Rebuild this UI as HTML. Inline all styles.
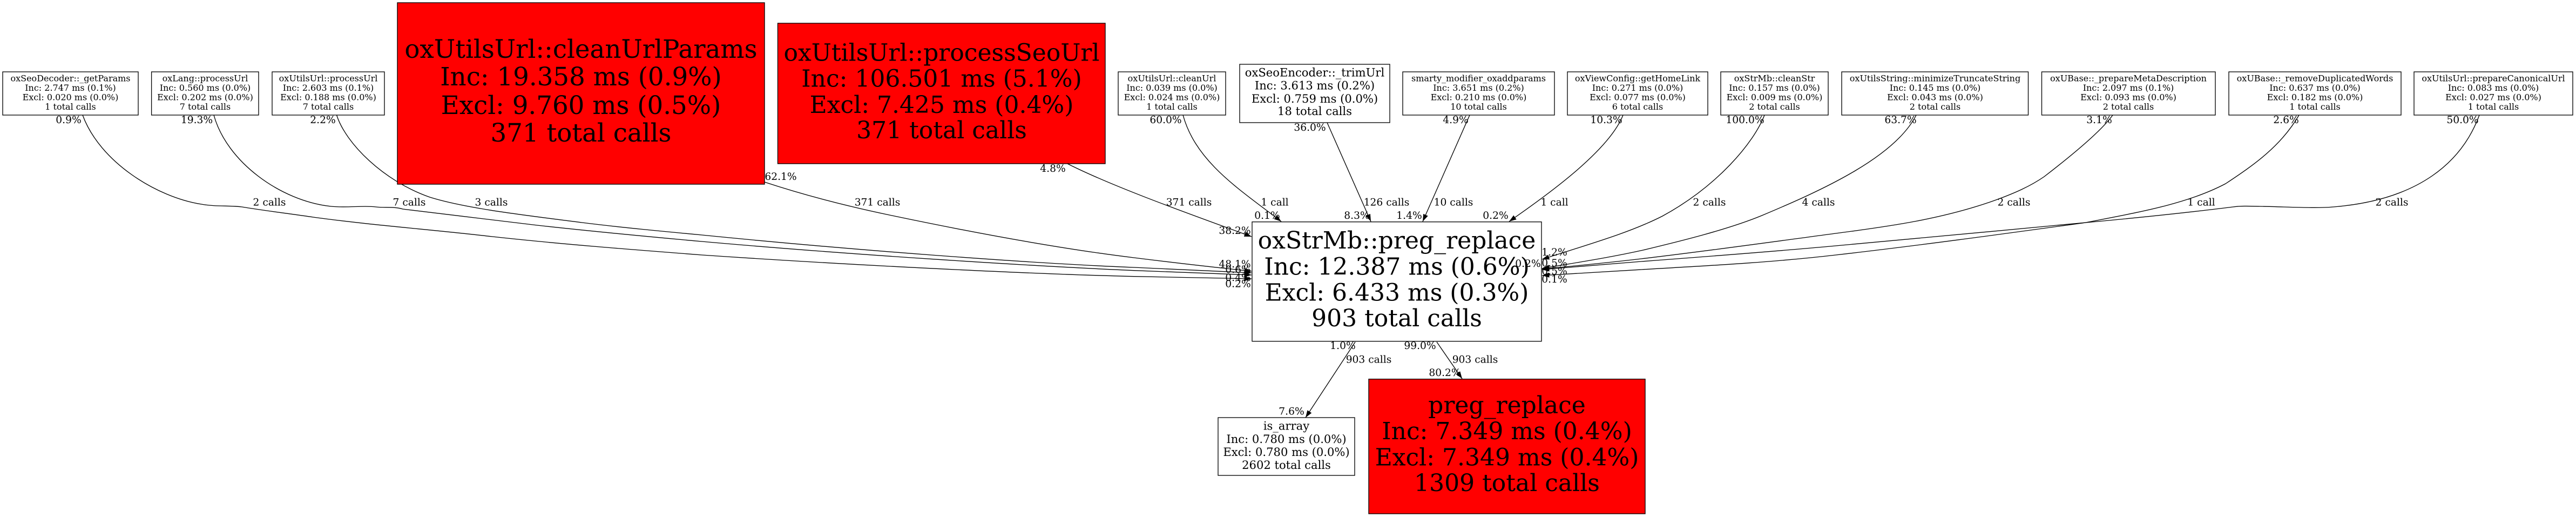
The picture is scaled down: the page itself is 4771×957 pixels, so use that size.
<!DOCTYPE html>
<html><head><meta charset="utf-8"><title>Call graph</title>
<style>
html,body{margin:0;padding:0;background:#fff;width:4771px;height:957px;overflow:hidden}
svg{display:block}
text{font-family:"DejaVu Serif",serif;fill:#000;text-anchor:middle}
.n{stroke:#000;stroke-width:1.33;fill:#fff}
.r{stroke:#000;stroke-width:1.33;fill:#f00}
.e{stroke:#000;stroke-width:1.33;fill:none;marker-end:url(#a)}
.s text{font-size:16px}
.l text{font-size:18.67px}
.m text{font-size:21.1px}
.b text{font-size:44px}
.h text{font-size:46.7px}
</style></head><body>
<svg width="4771" height="957" viewBox="0 0 4771 957" xmlns="http://www.w3.org/2000/svg">
<defs><marker id="a" markerUnits="userSpaceOnUse" markerWidth="14" markerHeight="10" viewBox="0 0 14 10" refX="13.4" refY="5" orient="auto"><path d="M0,0.3L13.4,5L0,9.7z" fill="#000"/></marker></defs>
<rect width="4771" height="957" fill="#fff"/>

<!-- edges -->
<path class="e" d="M153,213C185,300 290,365 373,378C400,383 425,380 448,383C490,390 540,396 580,402C690,417 800,425 912,438C1040,452 1170,462 1300,472C1565,490 1900,507 2100,511.7C2180,513.5 2260,515 2318,516"/>
<path class="e" d="M396,213C420,300 520,372 613,382C640,385 675,380 696,383C712,385 730,382 746,387C830,397 910,407 995,417C1095,428 1200,438 1300,447C1570,471 1900,492 2100,500.7C2180,504 2260,507 2318,509"/>
<path class="e" d="M623.5,213C640,265 710,335 796,365C860,385 960,397 1078,412C1150,421 1225,428 1300,435C1570,462 1900,487 2100,495C2180,498 2260,502 2318,505"/>
<path class="e" d="M1416,337C1495,363 1570,382 1652,399C1800,430 1960,460 2100,477C2180,487 2250,495 2318,502"/>
<path class="e" d="M1977,303C2060,345 2200,395 2318,438"/>
<path class="e" d="M2191,213C2215,300 2295,350 2373,410"/>
<path class="e" d="M2458,227L2539,410"/>
<path class="e" d="M2722,213L2635,410"/>
<path class="e" d="M3006,213C2980,280 2860,365 2795,410"/>
<path class="e" d="M3268,213C3248,265 3180,345 3079,400C3020,430 2950,450 2856,480"/>
<path class="e" d="M3549,213C3510,290 3380,350 3263,399C3200,425 3110,447 3043,463C2980,477 2920,486 2856,497"/>
<path class="e" d="M3913,213C3890,245 3825,297 3786,327C3760,345 3730,358 3697,370C3600,405 3500,419 3400,432C3280,448 3160,465 3040,479C2980,486 2920,492 2856,498"/>
<path class="e" d="M4258,213C4225,270 4175,305 4122,340C4050,378 3960,393 3863,412C3710,433 3550,455 3400,472C3280,486 3160,492 3040,499C2980,503 2920,506 2856,510"/>
<path class="e" d="M4592,213C4560,300 4480,370 4322,383C4290,386 4240,383 4186,382C4165,381.5 4150,381 4136,383C4040,395 3950,404 3863,412C3710,426 3550,442 3400,455C3280,466 3160,475 3040,484C2980,489 2920,494 2856,499"/>
<path class="e" d="M2510,633L2418,773"/>
<path class="e" d="M2661,633L2708,701"/>

<!-- nodes -->
<g class="s">
<rect class="n" x="5" y="133" width="251" height="80"/>
<text x="130.5" y="150.7">oxSeoDecoder::_getParams</text><text x="130.5" y="168">Inc: 2.747 ms (0.1%)</text><text x="130.5" y="185.5">Excl: 0.020 ms (0.0%)</text><text x="130.5" y="203">1 total calls</text>
<rect class="n" x="280.6" y="133" width="198.4" height="80"/>
<text x="380" y="150.7">oxLang::processUrl</text><text x="380" y="168">Inc: 0.560 ms (0.0%)</text><text x="380" y="185.5">Excl: 0.202 ms (0.0%)</text><text x="380" y="203">7 total calls</text>
<rect class="n" x="504" y="133" width="208" height="80"/>
<text x="608" y="150.7">oxUtilsUrl::processUrl</text><text x="608" y="168">Inc: 2.603 ms (0.1%)</text><text x="608" y="185.5">Excl: 0.188 ms (0.0%)</text><text x="608" y="203">7 total calls</text>
<rect class="n" x="2071" y="133" width="199" height="80"/>
<text x="2170.5" y="150.7">oxUtilsUrl::cleanUrl</text><text x="2170.5" y="168">Inc: 0.039 ms (0.0%)</text><text x="2170.5" y="185.5">Excl: 0.024 ms (0.0%)</text><text x="2170.5" y="203">1 total calls</text>
<rect class="n" x="2598" y="133" width="281" height="80"/>
<text x="2738.5" y="150.7">smarty_modifier_oxaddparams</text><text x="2738.5" y="168">Inc: 3.651 ms (0.2%)</text><text x="2738.5" y="185.5">Excl: 0.210 ms (0.0%)</text><text x="2738.5" y="203">10 total calls</text>
<rect class="n" x="2903" y="133" width="260" height="80"/>
<text x="3033" y="150.7">oxViewConfig::getHomeLink</text><text x="3033" y="168">Inc: 0.271 ms (0.0%)</text><text x="3033" y="185.5">Excl: 0.077 ms (0.0%)</text><text x="3033" y="203">6 total calls</text>
<rect class="n" x="3187" y="133" width="199" height="80"/>
<text x="3286.5" y="150.7">oxStrMb::cleanStr</text><text x="3286.5" y="168">Inc: 0.157 ms (0.0%)</text><text x="3286.5" y="185.5">Excl: 0.009 ms (0.0%)</text><text x="3286.5" y="203">2 total calls</text>
<rect class="n" x="3411" y="133" width="345.5" height="80"/>
<text x="3584" y="150.7">oxUtilsString::minimizeTruncateString</text><text x="3584" y="168">Inc: 0.145 ms (0.0%)</text><text x="3584" y="185.5">Excl: 0.043 ms (0.0%)</text><text x="3584" y="203">2 total calls</text>
<rect class="n" x="3781.5" y="133" width="321.5" height="80"/>
<text x="3942" y="150.7">oxUBase::_prepareMetaDescription</text><text x="3942" y="168">Inc: 2.097 ms (0.1%)</text><text x="3942" y="185.5">Excl: 0.093 ms (0.0%)</text><text x="3942" y="203">2 total calls</text>
<rect class="n" x="4128" y="133" width="319" height="80"/>
<text x="4287.5" y="150.7">oxUBase::_removeDuplicatedWords</text><text x="4287.5" y="168">Inc: 0.637 ms (0.0%)</text><text x="4287.5" y="185.5">Excl: 0.182 ms (0.0%)</text><text x="4287.5" y="203">1 total calls</text>
<rect class="n" x="4471" y="133" width="294" height="80"/>
<text x="4618" y="150.7">oxUtilsUrl::prepareCanonicalUrl</text><text x="4618" y="168">Inc: 0.083 ms (0.0%)</text><text x="4618" y="185.5">Excl: 0.027 ms (0.0%)</text><text x="4618" y="203">1 total calls</text>
</g>
<g class="m">
<rect class="n" x="2296" y="119" width="278" height="108"/>
<text x="2435" y="141.7">oxSeoEncoder::_trimUrl</text><text x="2435" y="165.6">Inc: 3.613 ms (0.2%)</text><text x="2435" y="190">Excl: 0.759 ms (0.0%)</text><text x="2435" y="213">18 total calls</text>
<rect class="n" x="2256" y="773" width="253" height="107"/>
<text x="2382.5" y="795.7">is_array</text><text x="2382.5" y="820">Inc: 0.780 ms (0.0%)</text><text x="2382.5" y="844">Excl: 0.780 ms (0.0%)</text><text x="2382.5" y="868">2602 total calls</text>
</g>
<g class="h">
<rect class="r" x="736" y="5" width="680" height="336"/>
<text x="1076" y="107">oxUtilsUrl::cleanUrlParams</text><text x="1076" y="158">Inc: 19.358 ms (0.9%)</text><text x="1076" y="211">Excl: 9.760 ms (0.5%)</text><text x="1076" y="262">371 total calls</text>
</g>
<g class="b">
<rect class="r" x="1440.5" y="43" width="606.5" height="260"/>
<text x="1744" y="112.3">oxUtilsUrl::processSeoUrl</text><text x="1744" y="160.7">Inc: 106.501 ms (5.1%)</text><text x="1744" y="209">Excl: 7.425 ms (0.4%)</text><text x="1744" y="256">371 total calls</text>
<rect class="n" x="2319" y="410.7" width="536" height="221"/>
<text x="2587" y="460">oxStrMb::preg_replace</text><text x="2587" y="508.3">Inc: 12.387 ms (0.6%)</text><text x="2587" y="556.7">Excl: 6.433 ms (0.3%)</text><text x="2587" y="604">903 total calls</text>
<rect class="r" x="2535" y="701.7" width="512" height="249.3"/>
<text x="2791" y="765">preg_replace</text><text x="2791" y="813">Inc: 7.349 ms (0.4%)</text><text x="2791" y="861.7">Excl: 7.349 ms (0.4%)</text><text x="2791" y="909">1309 total calls</text>
</g>

<!-- edge labels -->
<g class="l">
<text x="127" y="228">0.9%</text><text x="364.5" y="228">19.3%</text><text x="598" y="228">2.2%</text>
<text x="1446" y="333">62.1%</text><text x="1950" y="318">4.8%</text><text x="2159" y="228">60.0%</text>
<text x="2426" y="242">36.0%</text><text x="2696" y="228">4.9%</text><text x="2975" y="228">10.3%</text>
<text x="3232" y="228">100.0%</text><text x="3520" y="228">63.7%</text><text x="3888" y="228">3.1%</text>
<text x="4234" y="228">2.6%</text><text x="4561" y="228">50.0%</text>

<text x="499" y="380.7">2 calls</text><text x="758" y="380.7">7 calls</text><text x="910" y="380.7">3 calls</text>
<text x="1625" y="380.7">371 calls</text><text x="2202" y="380.7">371 calls</text><text x="2361" y="380.7">1 call</text>
<text x="2568" y="380.7">126 calls</text><text x="2692" y="380.7">10 calls</text><text x="2879" y="380.7">1 call</text>
<text x="3166" y="380.7">2 calls</text><text x="3368" y="380.7">4 calls</text><text x="3730" y="380.7">2 calls</text>
<text x="4077" y="380.7">1 call</text><text x="4430" y="380.7">2 calls</text>

<text x="2347" y="405">0.1%</text><text x="2513" y="405">8.3%</text><text x="2610" y="405">1.4%</text><text x="2770" y="405">0.2%</text>
<text x="2287" y="433">38.2%</text><text x="2287" y="495">48.1%</text><text x="2293" y="505">0.6%</text>
<text x="2293" y="520">0.4%</text><text x="2293" y="531.7">0.2%</text>
<text x="2879" y="473">1.2%</text><text x="2879" y="493">0.5%</text><text x="2879" y="508">0.5%</text><text x="2879" y="523">0.1%</text>
<text x="2830" y="494">0.2%</text>

<text x="2487" y="646">1.0%</text><text x="2630" y="646">99.0%</text>
<text x="2535" y="671.7">903 calls</text><text x="2732" y="671.7">903 calls</text>
<text x="2676" y="696">80.2%</text><text x="2392" y="767.7">7.6%</text>
</g>
</svg>
</body></html>
